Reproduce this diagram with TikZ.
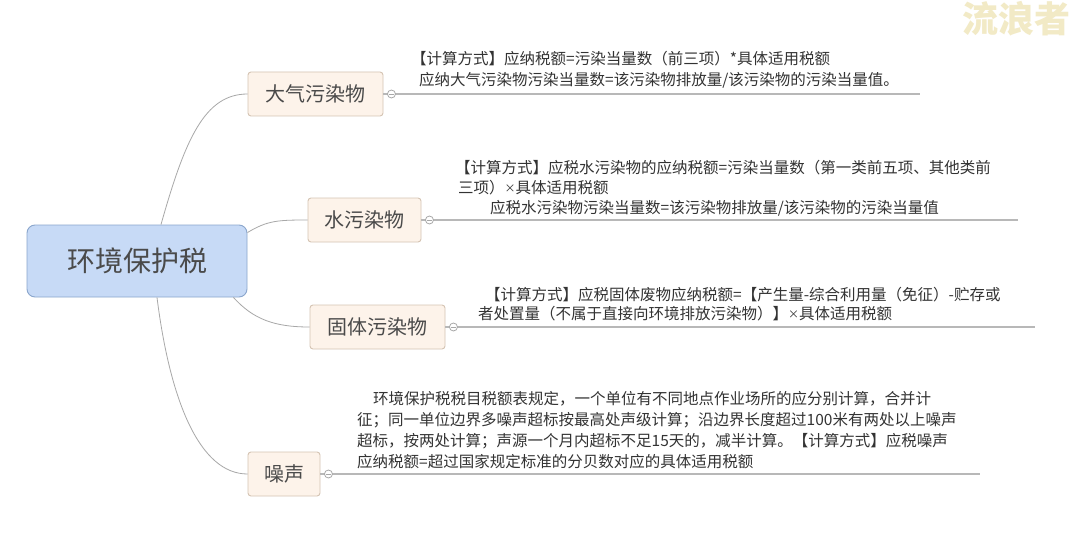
\documentclass[tikz,border=0pt]{standalone}
\usepackage{fontspec}
\newfontfamily\cjk{Noto Sans CJK SC}
\usetikzlibrary{calc}
\definecolor{txt}{HTML}{333333}
\definecolor{boxtxt}{HTML}{4A4A4A}
\definecolor{subfill}{HTML}{FDF3EA}
\definecolor{subdraw}{HTML}{D5C4B3}
\definecolor{mainfill}{HTML}{C7DAF6}
\definecolor{maindraw}{HTML}{8AA6CC}
\definecolor{conn}{HTML}{A8A8A8}
\definecolor{rule}{HTML}{B8B8B8}
\definecolor{wm}{HTML}{F2EAC6}
\tikzset{
  mainbox/.style={draw=maindraw, fill=mainfill, line width=0.9pt, rounded corners=8pt,
    minimum width=220pt, minimum height=72pt, inner sep=0pt,
    font=\cjk\fontsize{28}{30}\selectfont, text=boxtxt},
  subbox/.style={draw=subdraw, fill=subfill, line width=0.9pt, rounded corners=3pt,
    minimum height=44pt, inner sep=0pt, font=\cjk\fontsize{20}{22}\selectfont, text=boxtxt},
  conn/.style={draw=conn, line width=0.8pt},
  rulel/.style={draw=rule, line width=1.1pt},
  knob/.style={circle, draw=conn, fill=white, line width=0.8pt, minimum size=8pt, inner sep=0pt},
  note/.style={anchor=base west, inner sep=0pt, font=\cjk\fontsize{15.5}{20}\selectfont, text=txt},
}
\begin{document}
\begin{tikzpicture}[x=1pt,y=-1pt]
\useasboundingbox[fill=white] (0,0) rectangle (1080,551);
% watermark
\node[font=\cjk\bfseries\fontsize{36}{38}\selectfont, text=wm, inner sep=0pt] (wm) at (1016,19) {流浪者};
% nodes
\node[mainbox] (c) at (137,261) {环境保护税};
\node[subbox, minimum width=135pt] (air) at (315.5,94) {大气污染物};
\node[subbox, minimum width=113pt] (water) at (364.5,220) {水污染物};
\node[subbox, minimum width=135pt] (solid) at (377.5,327) {固体污染物};
\node[subbox, minimum width=72pt] (noise) at (284,474) {噪声};
% connectors
\draw[conn] ([xshift=24pt]c.north) .. controls +(24,-85) and +(-43,0) .. (air.west);
\draw[conn] ([yshift=-8pt]c.north east) .. controls +(20,-12) and +(-30,0) .. (water.west);
\draw[conn] ([xshift=-14pt]c.south east) .. controls +(20,22) and +(-35,0) .. (solid.west);
\draw[conn] ([xshift=20pt]c.south) .. controls +(13,103) and +(-48,0) .. (noise.west);
% rules and knobs
\coordinate (airend) at (920,94);
\coordinate (waterend) at (1018,220);
\coordinate (solidend) at (1035,327);
\coordinate (noiseend) at (980,474);
\draw[rulel] (air.east) -- (airend);
\draw[rulel] (water.east) -- (waterend);
\draw[rulel] (solid.east) -- (solidend);
\draw[rulel] (noise.east) -- (noiseend);
\node[knob] (k1) at ([xshift=8pt]air.east) {};
\node[knob] (k2) at ([xshift=8pt]water.east) {};
\node[knob] (k3) at ([xshift=8pt]solid.east) {};
\node[knob] (k4) at ([xshift=8pt]noise.east) {};
\foreach \k in {k1,k2,k3,k4}{\draw[draw=conn, line width=0.7pt] ([xshift=-2.5pt]\k.center) -- ([xshift=2.5pt]\k.center);}
% notes
\node[note] (a1) at (411,65) {【计算方式】应纳税额=污染当量数（前三项）*具体适用税额};
\node[note] (a2) at (419,86) {应纳大气污染物污染当量数=该污染物排放量/该污染物的污染当量值。};
\node[note] (w1) at (455,173) {【计算方式】应税水污染物的应纳税额=污染当量数（第一类前五项、其他类前};
\node[note] (w2) at (458,193) {三项）\raisebox{0.5pt}{\fontsize{11}{12}\selectfont ×}具体适用税额};
\node[note] (w3) at (490,213) {应税水污染物污染当量数=该污染物排放量/该污染物的污染当量值};
\node[note] (s1) at (485,300) {【计算方式】应税固体废物应纳税额=【产生量-综合利用量（免征）-贮存或};
\node[note] (s2) at (478,319) {者处置量（不属于直接向环境排放污染物）】\raisebox{0.5pt}{\fontsize{11}{12}\selectfont ×}具体适用税额};
\node[note] (n1) at (373,404) {环境保护税税目税额表规定，一个单位有不同地点作业场所的应分别计算，合并计};
\node[note] (n2) at (357,425) {征；同一单位边界多噪声超标按最高处声级计算；沿边界长度超过100米有两处以上噪声};
\node[note] (n3) at (357,446) {超标，按两处计算；声源一个月内超标不足15天的，减半计算。【计算方式】应税噪声};
\node[note] (n4) at (357,467) {应纳税额=超过国家规定标准的分贝数对应的具体适用税额};
\end{tikzpicture}
\end{document}
